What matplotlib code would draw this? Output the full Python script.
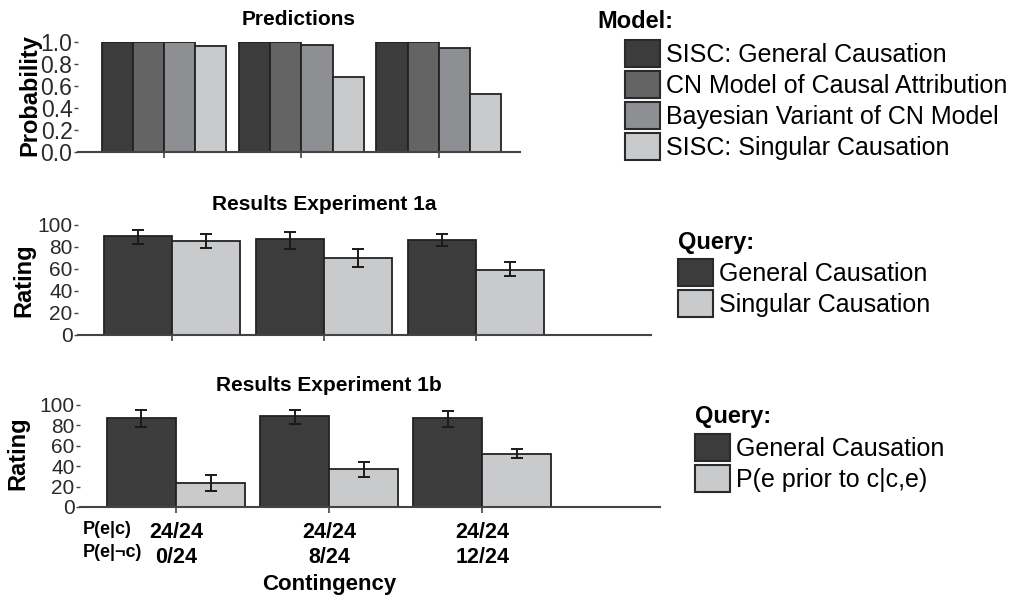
import matplotlib
matplotlib.use('Agg')
import numpy as np
import matplotlib.pyplot as plt
from matplotlib.patches import Patch

plt.rcParams['font.family'] = ['Liberation Sans', 'DejaVu Sans']

W, H = 1011, 598

# predictions (probability)
model_names = ['SISC: General Causation', 'CN Model of Causal Attribution',
               'Bayesian Variant of CN Model', 'SISC: Singular Causation']
model_colors = ['#3c3c3c', '#646464', '#8e8f92', '#c9cacc']
pred_sisc_gen = [1.0, 1.0, 1.0]
pred_cn = [1.0, 1.0, 1.0]
pred_bayes = [1.0, 0.97, 0.95]
pred_sisc_sing = [0.96, 0.68, 0.53]

# experiment 1a
gen_1a = [90, 87, 86.5]
gen_1a_lo = [83, 78, 80.5]
gen_1a_hi = [95.5, 94, 92]
sing_1a = [85.5, 70, 59]
sing_1a_lo = [79, 61.5, 54]
sing_1a_hi = [91.5, 78, 66]

# experiment 1b
gen_1b = [87.5, 89, 87]
gen_1b_lo = [78.5, 81.5, 78.5]
gen_1b_hi = [95, 95, 94.5]
prior_1b = [24, 37.5, 52]
prior_1b_lo = [15.5, 29.5, 48]
prior_1b_hi = [31, 44.5, 56.5]

contingency = ['24/24\n0/24', '24/24\n8/24', '24/24\n12/24']

dark = '#3c3c3c'
light = '#c9cacc'
edge = '#222222'
spine = '#444444'


def box(x0, y0, x1, y1):
    # pixel box (top-left origin) -> figure fraction
    return [x0 / W, 1 - y1 / H, (x1 - x0) / W, (y1 - y0) / H]


def fx(x, y):
    return x / W, 1 - y / H


def style(ax, tick_size):
    for s in ['left', 'right', 'top']:
        ax.spines[s].set_visible(False)
    ax.spines['bottom'].set_color(spine)
    ax.spines['bottom'].set_linewidth(1.5)
    ax.tick_params(axis='y', length=3, width=1, color=spine, labelsize=tick_size,
                   labelcolor='#2a2a2a', pad=1)
    ax.tick_params(axis='x', length=4, width=1.2, color=spine, direction='out')


fig = plt.figure(figsize=(W / 100, H / 100), dpi=100)
x = np.arange(3)

# ---- panel 1: predictions
ax1 = fig.add_axes(box(78, 42, 520, 152))
w1 = 0.227
preds = [pred_sisc_gen, pred_cn, pred_bayes, pred_sisc_sing]
for i, vals in enumerate(preds):
    ax1.bar(x + (i - 2) * w1, vals, w1, align='edge', color=model_colors[i],
            edgecolor=edge, linewidth=1.3, zorder=2)
ax1.set_xlim(-0.625, 2.59)
ax1.set_ylim(0, 1)
ax1.set_yticks(np.arange(0, 1.01, 0.2))
ax1.set_yticklabels(['%.1f' % v for v in np.arange(0, 1.01, 0.2)])
ax1.set_xticks(x)
ax1.set_xticklabels([])
style(ax1, 16.5)
ax1.set_title('Predictions', fontsize=15, fontweight='bold', pad=12)
fig.text(*fx(30, 95), 'Probability', rotation=90, ha='center', va='center',
         fontsize=17, fontweight='bold')

ekw = dict(fmt='none', ecolor='#1a1a1a', elinewidth=1.4, capsize=4.5, capthick=1.4, zorder=3)

# ---- panel 2: experiment 1a
ax2 = fig.add_axes(box(78, 225, 651, 335))
w2 = 0.447
ax2.bar(x - w2, gen_1a, w2, align='edge', color=dark, edgecolor=edge, linewidth=1.3, zorder=2)
ax2.bar(x, sing_1a, w2, align='edge', color=light, edgecolor=edge, linewidth=1.3, zorder=2)
ax2.errorbar(x - w2 / 2, gen_1a, yerr=[np.subtract(gen_1a, gen_1a_lo), np.subtract(gen_1a_hi, gen_1a)], **ekw)
ax2.errorbar(x + w2 / 2, sing_1a, yerr=[np.subtract(sing_1a, sing_1a_lo), np.subtract(sing_1a_hi, sing_1a)], **ekw)
ax2.set_xlim(-0.618, 3.15)
ax2.set_ylim(0, 100)
ax2.set_yticks(range(0, 101, 20))
ax2.set_xticks(x)
ax2.set_xticklabels([])
style(ax2, 15)
ax2.text(1, 1.1, 'Results Experiment 1a', transform=ax2.get_xaxis_transform(),
         ha='center', va='bottom', fontsize=15, fontweight='bold')
fig.text(*fx(24, 280), 'Rating', rotation=90, ha='center', va='center',
         fontsize=17, fontweight='bold')

# ---- panel 3: experiment 1b
ax3 = fig.add_axes(box(80, 405, 660, 507))
w3 = 0.451
ax3.bar(x - w3, gen_1b, w3, align='edge', color=dark, edgecolor=edge, linewidth=1.3, zorder=2)
ax3.bar(x, prior_1b, w3, align='edge', color=light, edgecolor=edge, linewidth=1.3, zorder=2)
ax3.errorbar(x - w3 / 2, gen_1b, yerr=[np.subtract(gen_1b, gen_1b_lo), np.subtract(gen_1b_hi, gen_1b)], **ekw)
ax3.errorbar(x + w3 / 2, prior_1b, yerr=[np.subtract(prior_1b, prior_1b_lo), np.subtract(prior_1b_hi, prior_1b)], **ekw)
ax3.set_xlim(-0.627, 3.16)
ax3.set_ylim(0, 100)
ax3.set_yticks(range(0, 101, 20))
ax3.set_xticks(x)
ax3.set_xticklabels(contingency, fontsize=15.5, fontweight='bold', linespacing=1.25)
style(ax3, 15)
ax3.tick_params(axis='x', pad=7)
ax3.annotate('P(e|c)\nP(e|\u00acc)', xy=(-0.6, 0), xycoords=ax3.get_xaxis_transform(),
             xytext=(-1, -10), textcoords='offset points', ha='left', va='top',
             fontsize=13, fontweight='bold', linespacing=1.5)
ax3.set_xlabel('Contingency', fontsize=16, fontweight='bold')
ax3.xaxis.set_label_coords(249 / 580, -0.66)
ax3.text(1, 1.1, 'Results Experiment 1b', transform=ax3.get_xaxis_transform(),
         ha='center', va='bottom', fontsize=15, fontweight='bold')
fig.text(*fx(18, 453), 'Rating', rotation=90, ha='center', va='center',
         fontsize=17, fontweight='bold')

# ---- legends
lkw = dict(loc='upper left', frameon=False, fontsize=18, handlelength=1.4,
           handleheight=1.28, labelspacing=0.16, handletextpad=0.25,
           borderpad=0, borderaxespad=0)


def handles(colors, labels):
    return [Patch(facecolor=c, edgecolor='#2a2a2a', linewidth=1.5, label=l)
            for c, l in zip(colors, labels)]


fig.text(*fx(597, 21), 'Model:', ha='left', va='center', fontsize=17, fontweight='bold')
fig.legend(handles=handles(model_colors, model_names), bbox_to_anchor=fx(625, 40), **lkw)

fig.text(*fx(678, 242), 'Query:', ha='left', va='center', fontsize=17, fontweight='bold')
fig.legend(handles=handles([dark, light], ['General Causation', 'Singular Causation']),
           bbox_to_anchor=fx(678, 259), **lkw)

fig.text(*fx(695, 417), 'Query:', ha='left', va='center', fontsize=17, fontweight='bold')
fig.legend(handles=handles([dark, light], ['General Causation', 'P(e prior to c|c,e)']),
           bbox_to_anchor=fx(695, 434), **lkw)

fig.savefig('out.png', dpi=100)
